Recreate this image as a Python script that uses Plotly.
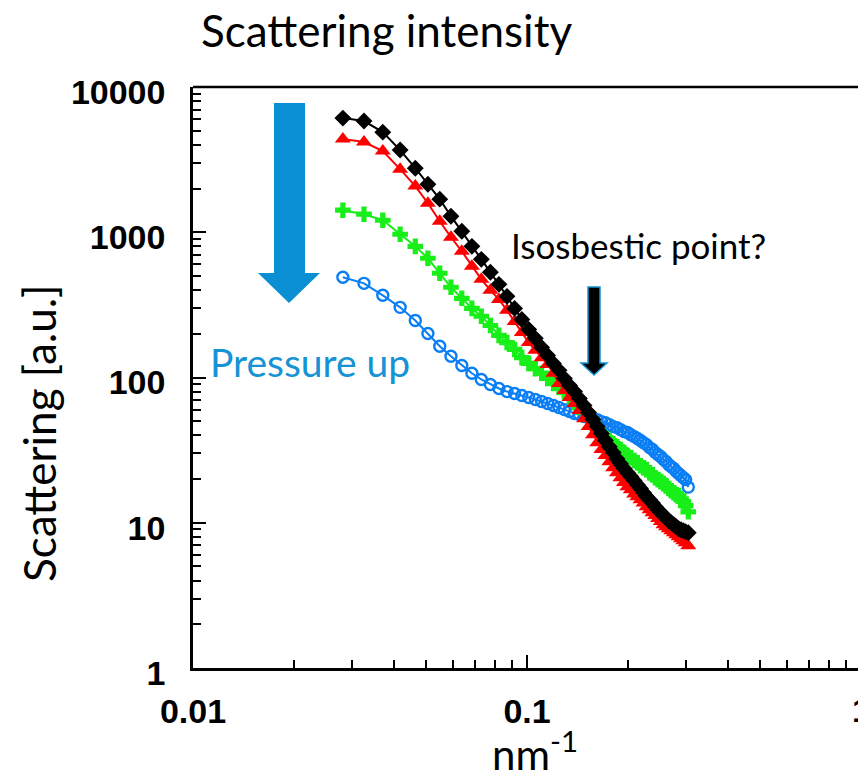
import plotly.graph_objects as go

# Scattering vector q (nm^-1)
q = [0.0281, 0.0325, 0.0370, 0.0417, 0.0463, 0.0505, 0.0548, 0.0592, 0.0638, 0.0684,
     0.0730, 0.0777, 0.0824, 0.0871, 0.0918, 0.0965, 0.1012, 0.1059, 0.1106, 0.1153,
     0.1200, 0.1247, 0.1294, 0.1341, 0.1388, 0.1435, 0.1482, 0.1529, 0.1576, 0.1623,
     0.1670, 0.1717, 0.1764, 0.1811, 0.1858, 0.1905, 0.1952, 0.1999, 0.2046, 0.2093,
     0.2140, 0.2187, 0.2234, 0.2281, 0.2328, 0.2375, 0.2422, 0.2469, 0.2516, 0.2563,
     0.2610, 0.2657, 0.2704, 0.2751, 0.2798, 0.2845, 0.2892, 0.2939, 0.2986, 0.3040]

# Scattering intensity (a.u.) at increasing pressure
black = [6110, 5830, 4890, 3680, 2760, 2140, 1690, 1290, 1016, 800,
         651, 530, 438, 362, 299, 251, 214, 186, 161, 142,
         125, 112, 98.4, 88.1, 80.0, 71.6, 64.1, 57.4, 51.3, 45.9,
         41.1, 36.8, 33.4, 30.4, 27.6, 25.5, 23.6, 22.1, 20.8, 19.5,
         18.3, 17.2, 16.1, 15.1, 14.4, 13.7, 12.9, 12.3, 11.7, 11.2,
         10.8, 10.3, 10.0, 9.69, 9.38, 9.09, 8.95, 8.81, 8.67, 8.53]
red = [4380, 4180, 3620, 2720, 2080, 1585, 1190, 924, 740, 583,
       474, 398, 345, 290, 243, 204, 174, 154, 137, 123,
       107, 90.9, 81.3, 72.8, 66.2, 59.2, 52.1, 45.9, 40.4, 35.6,
       31.9, 29.0, 26.3, 23.9, 22.1, 20.4, 18.9, 17.7, 16.9, 15.8,
       15.1, 14.4, 13.7, 12.9, 12.3, 11.7, 11.2, 10.7, 10.2, 9.69,
       9.38, 9.09, 8.81, 8.53, 8.27, 8.00, 7.76, 7.51, 7.28, 6.94]
green = [1418, 1331, 1210, 969, 800, 662, 522, 418, 351, 299,
         264, 228, 195, 174, 156, 137, 125, 115, 107, 98.4,
         90.9, 85.3, 80.0, 73.9, 68.3, 62.1, 57.4, 52.1, 48.2, 44.5,
         41.1, 38.6, 36.8, 35.1, 33.4, 31.9, 30.4, 29.0, 28.1, 26.8,
         25.9, 24.7, 23.9, 23.2, 22.1, 21.4, 20.4, 19.8, 19.2, 18.6,
         18.0, 17.2, 16.6, 16.1, 15.6, 15.4, 14.6, 14.0, 13.1, 11.9]
blue = [490, 445, 368, 304, 247, 201, 164, 140, 121, 107,
        96.9, 89.5, 84.0, 80.0, 77.6, 75.1, 72.8, 70.5, 68.3, 66.2,
        64.1, 62.1, 60.1, 58.3, 56.5, 55.6, 53.8, 53.0, 52.1, 51.3,
        49.7, 48.9, 47.4, 45.9, 45.2, 43.8, 42.4, 41.8, 40.4, 39.2,
        38.0, 36.8, 35.6, 34.5, 32.9, 31.9, 30.4, 29.4, 28.5, 27.2,
        26.3, 25.1, 24.3, 23.6, 22.5, 21.8, 21.1, 20.4, 19.8, 17.6]

x_tickvals = [0.01, 0.1]
x_ticktext = ["0.01", "0.1"]
y_tickvals = [1, 10, 100, 1000, 10000]
y_ticktext = ["1", "10", "100", "1000", "10000"]
x_minor = [k * 0.01 for k in range(2, 10)] + [k * 0.1 for k in range(2, 10)]
y_minor = [k * d for d in (1, 10, 100, 1000) for k in range(2, 10)]

W, H = 858, 783
L, R, T, B = 193, 0, 87, 115
PW, PH = W - L - R, H - T - B


def px(x):
    return (x - L) / PW


def py(y):
    return (H - B - y) / PH


TEXT_FONT = "Lato"
TICK_FONT = dict(family="Liberation Sans", size=34, color="black", weight="bold")
BLUE_TEXT = "#1593d4"
ARROW_BLUE = "#0a8ed4"

series = [
    ("blue", blue, "#0a7ef5", dict(symbol="circle-open", size=11, line=dict(width=2.4, color="#0a7ef5"))),
    ("green", green, "#18ee18", dict(symbol="cross", size=13, color="#18ee18")),
    ("red", red, "#ff0000", dict(symbol="triangle-up", size=14, color="#ff0000")),
    ("black", black, "#000000", dict(symbol="diamond", size=13, color="#000000")),
]

fig = go.Figure()
for name, vals, col, mk in series:
    fig.add_trace(go.Scatter(
        x=q, y=vals, mode="lines+markers", name=name,
        line=dict(color=col, width=2), marker=mk, showlegend=False,
    ))

axis_common = dict(
    type="log", showline=True, linecolor="black", linewidth=2.5,
    ticks="inside", ticklen=13, tickwidth=2, tickcolor="black",
    showgrid=False, zeroline=False, tickfont=TICK_FONT,
)

fig.update_xaxes(
    **axis_common, range=[-2, -2 + PW / 334.0],
    tickmode="array", tickvals=x_tickvals, ticktext=x_ticktext,
    ticklabelstandoff=11,
    minor=dict(tickmode="array", tickvals=x_minor, ticks="inside",
               ticklen=8, tickwidth=2, tickcolor="black", showgrid=False),
)
fig.update_yaxes(
    **axis_common, range=[0, 4],
    tickmode="array", tickvals=y_tickvals, ticktext=y_ticktext,
    ticklabelstandoff=18, ticklabelshift=5,
    minor=dict(tickmode="array", tickvals=y_minor, ticks="inside",
               ticklen=8, tickwidth=2, tickcolor="black", showgrid=False),
)

shapes = [
    # top frame line
    dict(type="line", xref="paper", yref="paper", x0=0, x1=1, y0=1, y1=1,
         line=dict(color="black", width=2.5)),
    # large blue arrow
    dict(type="path", xref="paper", yref="paper",
         path=(f"M {px(274)},{py(103)} L {px(305)},{py(103)} L {px(305)},{py(273)} "
               f"L {px(320)},{py(273)} L {px(289)},{py(303)} L {px(258)},{py(273)} "
               f"L {px(274)},{py(273)} Z"),
         fillcolor=ARROW_BLUE, line=dict(width=0)),
    # black arrow at the crossing point
    dict(type="path", xref="paper", yref="paper",
         path=(f"M {px(588)},{py(287)} L {px(600)},{py(287)} L {px(600)},{py(363)} "
               f"L {px(607)},{py(363)} L {px(594)},{py(375)} L {px(581)},{py(363)} "
               f"L {px(588)},{py(363)} Z"),
         fillcolor="black", line=dict(width=1.5, color=BLUE_TEXT)),
]

annotations = [
    dict(text="Scattering intensity", x=px(386), y=py(30), font=dict(size=44, color="black")),
    dict(text="Scattering [a.u.]", x=px(39), y=py(433), textangle=-90,
         font=dict(size=44, color="black")),
    dict(text="nm<sup>-1</sup>", x=px(535), y=py(751), font=dict(size=42, color="black")),
    dict(text="Pressure up", x=px(310), y=py(362), font=dict(size=39, color=BLUE_TEXT)),
    dict(text="Isosbestic point?", x=px(638), y=py(245), font=dict(size=35, color="black")),
    dict(text="1", x=px(861), y=py(710), font=TICK_FONT),
]
for a in annotations:
    a.update(xref="paper", yref="paper", showarrow=False, xanchor="center", yanchor="middle")
    a.setdefault("font", {})
    if "family" not in a["font"]:
        a["font"]["family"] = TEXT_FONT

fig.update_layout(
    width=W, height=H, margin=dict(l=L, r=R, t=T, b=B, autoexpand=False),
    paper_bgcolor="white", plot_bgcolor="white",
    font=dict(family=TEXT_FONT, color="black"),
    shapes=shapes, annotations=annotations,
)

fig.write_html("out.html")
